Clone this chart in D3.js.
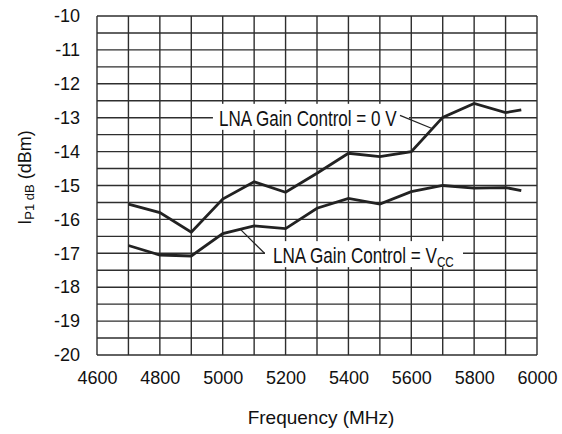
<!DOCTYPE html>
<html><head><meta charset="utf-8">
<script src="https://cdn.jsdelivr.net/npm/d3@7"></script>
<style>
html,body{margin:0;padding:0;background:#fff;}
svg{display:block;font-family:"Liberation Sans",Arial,Helvetica,sans-serif;}
</style></head>
<body>
<svg id="chart" width="562" height="434"></svg>
<script>
// ---- data ----
const frequencies = [4700,4800,4900,5000,5100,5200,5300,5400,5500,5600,5700,5800,5900,5950];
const gain0V  = [-15.55,-15.8,-16.38,-15.4,-14.89,-15.2,-14.64,-14.05,-14.15,-14.0,-12.99,-12.58,-12.85,-12.77];
const gainVcc = [-16.77,-17.05,-17.08,-16.42,-16.19,-16.27,-15.67,-15.38,-15.55,-15.18,-15.0,-15.08,-15.06,-15.15];
const xTicks = [4600,4800,5000,5200,5400,5600,5800,6000];
const yTicks = [-20,-19,-18,-17,-16,-15,-14,-13,-12,-11,-10];
const xGrid = d3.range(4600,6001,100);
const yGrid = d3.range(-20,-9.99,0.5);

const margin = {left:97, top:16, right:25, bottom:79};
const W = 562, H = 434;
const svg = d3.select("#chart");
const x = d3.scaleLinear().domain([4600,6000]).range([margin.left, W-margin.right]);
const y = d3.scaleLinear().domain([-20,-10]).range([H-margin.bottom, margin.top]);

const ink = "#222";
const grid = svg.append("g");
grid.selectAll("line.v").data(xGrid).join("line")
  .attr("x1",d=>x(d)).attr("x2",d=>x(d)).attr("y1",y(-20)).attr("y2",y(-10))
  .attr("stroke","#2e2e2e").attr("stroke-width",1.4);
grid.selectAll("line.h").data(yGrid).join("line")
  .attr("y1",d=>y(d)).attr("y2",d=>y(d)).attr("x1",x(4600)).attr("x2",x(6000))
  .attr("stroke","#2e2e2e").attr("stroke-width",1.4);

// axes
const xAxis = svg.append("g").attr("transform",`translate(0,${y(-20)})`)
  .call(d3.axisBottom(x).tickValues(xTicks).tickSize(0).tickPadding(16).tickFormat(d3.format("d")));
const yAxis = svg.append("g").attr("transform",`translate(${x(4600)},0)`)
  .call(d3.axisLeft(y).tickValues(yTicks).tickSize(0).tickPadding(17).tickFormat(d3.format("d")));
[xAxis,yAxis].forEach(a=>{
  a.select(".domain").remove();
  a.selectAll("text").attr("font-size",18).attr("fill","#111")
   .attr("font-family",'"Liberation Sans",Arial,sans-serif');
});
yAxis.selectAll("text").text(d=>String(d).replace("\u2212","-"));

// lines
const line = d3.line().x(d=>x(d[0])).y(d=>y(d[1]));
[gain0V,gainVcc].forEach(s=>{
  svg.append("path").datum(frequencies.map((f,i)=>[f,s[i]]))
    .attr("d",line).attr("fill","none").attr("stroke",ink)
    .attr("stroke-width",2.8).attr("stroke-linejoin","miter");
});

// annotations
function label(parts, fx, fy, targetW, leaderFrom, leaderTo, padL, padR){
  const g = svg.append("g");
  const rect = g.append("rect").attr("fill","#fff");
  const tg = g.append("g");
  const t = tg.append("text").attr("font-size",22).attr("fill","#111");
  parts.forEach(p=>{
    const ts = t.append("tspan").text(p.t);
    if(p.sub) ts.attr("font-size",15).attr("dy",4);
  });
  const bb = t.node().getBBox();
  const s = targetW / bb.width;
  const x0 = x(fx), y0 = y(fy);
  tg.attr("transform",`translate(${x0},${y0}) scale(${s},1)`);
  rect.attr("x",x0-padL).attr("y",y0-22).attr("width",targetW+padL+padR).attr("height",26);
  svg.append("line")
    .attr("x1",x(leaderFrom[0])).attr("y1",y(leaderFrom[1]))
    .attr("x2",x(leaderTo[0])).attr("y2",y(leaderTo[1]))
    .attr("stroke",ink).attr("stroke-width",1.2);
}
label([{t:"LNA Gain Control = 0 V"}], 4988, -13.24, 178, [5564,-12.93],[5666,-13.32], 6, 12);
label([{t:"LNA Gain Control = V"},{t:"CC",sub:true}], 5160, -17.29, 181, [5133,-17.0],[5058,-16.31], 8, 9);

// axis titles
svg.append("text").attr("x",(x(4600)+x(6000))/2+4).attr("y",424)
  .attr("text-anchor","middle").attr("font-size",19).attr("fill","#111")
  .text("Frequency (MHz)");
const yt = svg.append("text")
  .attr("transform",`translate(31,${(y(-10)+y(-20))/2-8}) rotate(-90)`)
  .attr("text-anchor","middle").attr("font-size",18).attr("fill","#111");
yt.append("tspan").text("I");
yt.append("tspan").text("P1 dB").attr("font-size",13).attr("dy",3);
yt.append("tspan").text(" (dBm)").attr("dy",-3);
</script>
</body></html>
